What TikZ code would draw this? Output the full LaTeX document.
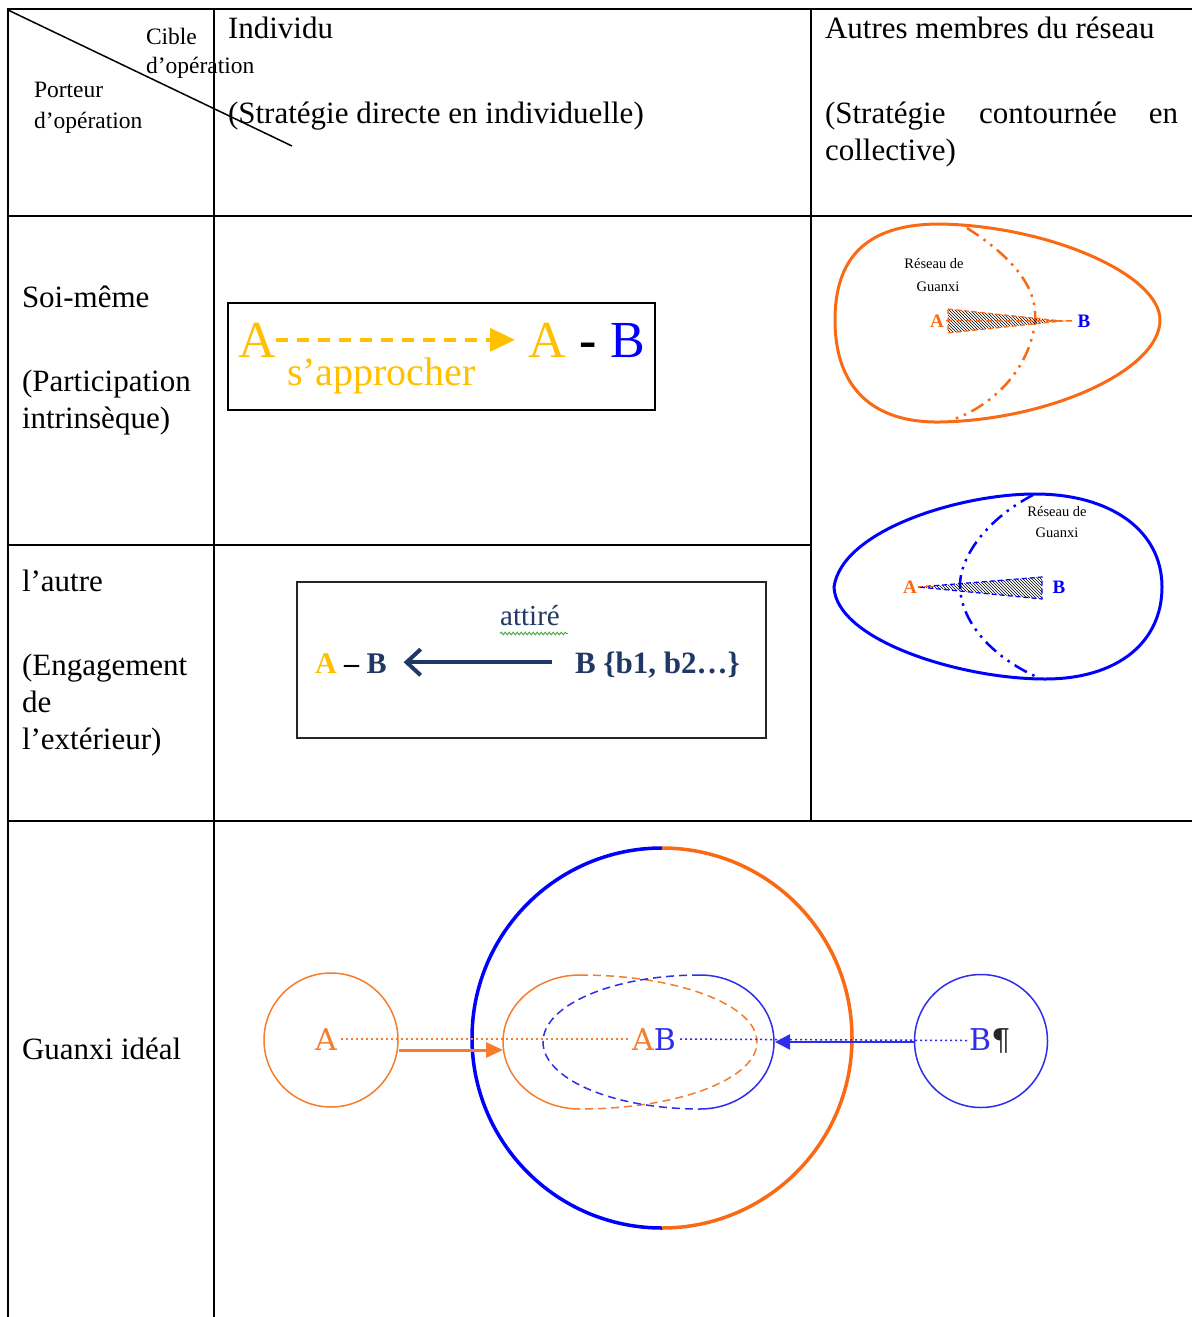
\documentclass[tikz,border=0pt]{standalone}
\usepackage{fontspec}
\setmainfont{Liberation Serif}
\newfontfamily\dvserif{DejaVu Serif}
\usetikzlibrary{arrows.meta,patterns,decorations.pathmorphing}
\definecolor{gold}{RGB}{255,192,0}
\definecolor{eggor}{RGB}{250,105,20}
\definecolor{lightor}{RGB}{245,125,45}
\definecolor{pureblue}{RGB}{0,0,255}
\definecolor{softblue}{RGB}{45,45,235}
\definecolor{navy}{RGB}{31,56,100}
\definecolor{wavegreen}{RGB}{60,170,60}
\begin{document}
\begin{tikzpicture}[x=1pt,y=-1pt,
  tbl/.style={line width=2pt,black},
  txt/.style={inner sep=0pt,outer sep=0pt,anchor=base west},
  bigtxt/.style={txt,font=\fontsize{31}{37}\selectfont},
  smalltxt/.style={txt,font=\fontsize{23.5}{28}\selectfont},
  eggtxt/.style={inner sep=0pt,anchor=base,font=\fontsize{14.5}{17}\selectfont},
  egglet/.style={inner sep=0pt,anchor=base,font=\fontsize{19}{22}\selectfont\bfseries},
  slab/.style={inner sep=0pt,anchor=base west,font=\fontsize{30}{34}\dvserif},
  eggline/.style={line width=3pt},
  dashdotdot/.style={line width=2.5pt,dash pattern=on 14pt off 6pt on 2.5pt off 6pt on 2.5pt off 6pt},
  thinring/.style={circle,draw,line width=1.5pt,inner sep=0pt},
  stad/.style={line width=1.5pt},
  stadd/.style={line width=1.5pt,dash pattern=on 8pt off 5pt}
]
\useasboundingbox (0,0) rectangle (1192,1317);
\fill[white] (0,0) rectangle (1192,1317);

% ---------- table ----------
\draw[tbl] (7,9) -- (1192,9);
\draw[tbl] (8,9) -- (8,1317);
\draw[tbl] (214,9) -- (214,1317);
\draw[tbl] (811,9) -- (811,821);
\draw[tbl] (8,216) -- (1192,216);
\draw[tbl] (8,545) -- (811,545);
\draw[tbl] (8,821) -- (1192,821);
\draw[line width=1.5pt] (8,10) -- (292,146);

% ---------- header texts ----------
\node[smalltxt] (cible) at (146,44) {Cible};
\node[smalltxt] (cible2) at (146,73) {d’opération};
\node[smalltxt] (port) at (34,97) {Porteur};
\node[smalltxt] (port2) at (34,128) {d’opération};
\node[bigtxt] (indiv) at (228,38) {Individu};
\node[bigtxt] (indiv2) at (228,123) {(Stratégie directe en individuelle)};
\node[bigtxt] (autres) at (825,38) {Autres membres du réseau};
\node[bigtxt] (aut2a) at (825,123) {(Stratégie};
\node[bigtxt,anchor=base] (aut2b) at (1048,123) {contournée};
\node[bigtxt,anchor=base east] (aut2c) at (1178,123) {en};
\node[bigtxt] (aut3) at (825,160) {collective)};

% ---------- row labels ----------
\node[bigtxt] (soi) at (22,307) {Soi-même};
\node[bigtxt] (soi2) at (22,391) {(Participation};
\node[bigtxt] (soi3) at (22,428) {intrinsèque)};
\node[bigtxt] (autre) at (22,591) {l’autre};
\node[bigtxt] (autre2) at (22,675) {(Engagement};
\node[bigtxt] (autre3) at (22,712) {de};
\node[bigtxt] (autre4) at (22,749) {l’extérieur)};
\node[bigtxt] (gi) at (22,1059) {Guanxi idéal};

% ---------- box 1 ----------
\draw[line width=2pt] (228,303) rectangle (655,410);
\node[txt,font=\fontsize{52}{60}\selectfont,text=gold] (A1) at (238,357) {A};
\node[txt,font=\fontsize{52}{60}\selectfont,text=gold] (A2) at (528,357) {A};
\node[txt,font=\fontsize{52}{60}\selectfont\bfseries] (dash1) at (579,357) {-};
\node[txt,font=\fontsize{52}{60}\selectfont,text=pureblue] (B2) at (610,357) {B};
\draw[gold,line width=3.5pt,dash pattern=on 12pt off 9pt,-{Triangle[length=25pt,width=23pt]},shorten >=13pt] (A1.east) -- (A2.west);
\node[txt,font=\fontsize{40}{46}\selectfont,text=gold] (appr) at (287,385) {s’approcher};

% ---------- box 2 ----------
\draw[line width=2pt,black!85] (297,582) rectangle (766,738);
\node[inner sep=0pt,anchor=base,font=\fontsize{29}{34}\selectfont,text=navy] (attire) at (530,625) {attiré};
\draw[wavegreen,line width=0.9pt,decorate,decoration={snake,amplitude=1.3pt,segment length=4pt}] (attire.south west) ++(0,8) -- ++(68,0);
\node[txt,font=\fontsize{30}{34}\selectfont\bfseries,text=navy] (AB3) at (315,673) {\textcolor{gold}{A} \textcolor{black}{–} B};
\node[txt,font=\fontsize{31}{36}\selectfont\bfseries,text=navy,text depth=0pt] (B3) at (575,673) {B \{b1, b2…\}};
\draw[navy,line width=4pt,-{Straight Barb[length=14pt,width=26pt]},shorten <=23pt,shorten >=17pt] (B3.west) -- (B3.west -| AB3.east);

% ---------- egg 1 (orange) ----------
\draw[eggor,eggline] (835,320) .. controls (835,250) and (875,224) .. (940,224)
  .. controls (1050,226) and (1160,275) .. (1160,320)
  .. controls (1160,370) and (1050,420) .. (940,422)
  .. controls (875,423) and (835,390) .. (835,320) -- cycle;
\draw[eggor,dashdotdot] (967,228) .. controls (1020,262) and (1037,292) .. (1035,320) .. controls (1032,360) and (1002,402) .. (952,420);
\node[eggtxt] (r1a) at (934,268) {Réseau de};
\node[eggtxt] (r1b) at (938,291) {Guanxi};
\node[egglet,text=eggor] (A4) at (937,327) {A};
\node[egglet,text=pureblue] (B4) at (1084,327) {B};
\draw[eggor,line width=1.2pt,dash pattern=on 5pt off 3pt,pattern=north west lines] (948,309) -- (1062,321) -- (948,333) -- cycle;
\draw[eggor,line width=1.5pt,dash pattern=on 6pt off 4pt] ([xshift=2pt]A4.east) -- ([xshift=-2pt]B4.west);

% ---------- egg 2 (blue) ----------
\draw[pureblue,eggline] (834,587) .. controls (842,530) and (960,494) .. (1035,494)
  .. controls (1110,494) and (1162,530) .. (1162,587)
  .. controls (1162,642) and (1118,679) .. (1045,679)
  .. controls (960,679) and (836,640) .. (834,587) -- cycle;
\draw[pureblue,dashdotdot] (1033,495) .. controls (985,520) and (960,558) .. (960,585) .. controls (960,620) and (990,656) .. (1037,677);
\node[eggtxt] (r2a) at (1057,516) {Réseau de};
\node[eggtxt] (r2b) at (1057,537) {Guanxi};
\node[egglet,text=eggor] (A5) at (910,593) {A};
\node[egglet,text=pureblue] (B5) at (1059,593) {B};
\draw[pureblue,line width=1.2pt,dash pattern=on 5pt off 3pt,pattern=north west lines] (918,587) -- (1042,577) -- (1042,599) -- cycle;
\draw[eggor,line width=1.2pt,dash pattern=on 4pt off 2pt] ([xshift=1pt]A5.east) -- ++(16,0);

% ---------- bottom : guanxi ideal ----------
\draw[pureblue,line width=3.5pt] (662,848) arc[start angle=90,end angle=270,radius=190pt];
\draw[eggor,line width=3.5pt] (662,848) arc[start angle=90,end angle=-90,radius=190pt];

\draw[lightor,stad] (580,975) arc[start angle=90,end angle=270,x radius=77pt,y radius=67pt];
\draw[lightor,stadd] (580,975) arc[start angle=90,end angle=-90,x radius=177pt,y radius=67pt];
\draw[softblue,stad] (700,975) arc[start angle=90,end angle=-90,x radius=74pt,y radius=67pt];
\draw[softblue,stadd] (700,975) arc[start angle=90,end angle=270,x radius=157pt,y radius=67pt];
\coordinate (SL) at (503,1050);
\coordinate (SR) at (775,1042);

\node[thinring,draw=lightor,minimum size=134pt] (CA) at (331,1040) {};
\node[thinring,draw=softblue,minimum size=133pt] (CB) at (981,1041) {};

\node[slab,text=lightor] (TA) at (315,1050) {A};
\node[slab] (TAB) at (632,1050) {\textcolor{lightor}{A}\textcolor{softblue}{B}};
\node[slab] (TB) at (969,1050) {\textcolor{softblue}{B}\textcolor{black!85}{¶}};

\draw[lightor,line width=1.5pt,dash pattern=on 2pt off 3pt] ([xshift=4pt]TA.east) -- ([xshift=-2pt]TAB.west);
\draw[softblue,line width=1.5pt,dash pattern=on 2pt off 3pt] ([xshift=4pt]TAB.east) -- (TB.west);
\draw[lightor,line width=3pt,-{Triangle[length=17pt,width=15pt]}] ([yshift=-10pt]CA.east) -- (SL);
\draw[softblue,line width=2.5pt,-{Triangle[length=15pt,width=15pt]}] ([yshift=-1pt]CB.west) -- (SR);
\end{tikzpicture}
\end{document}
